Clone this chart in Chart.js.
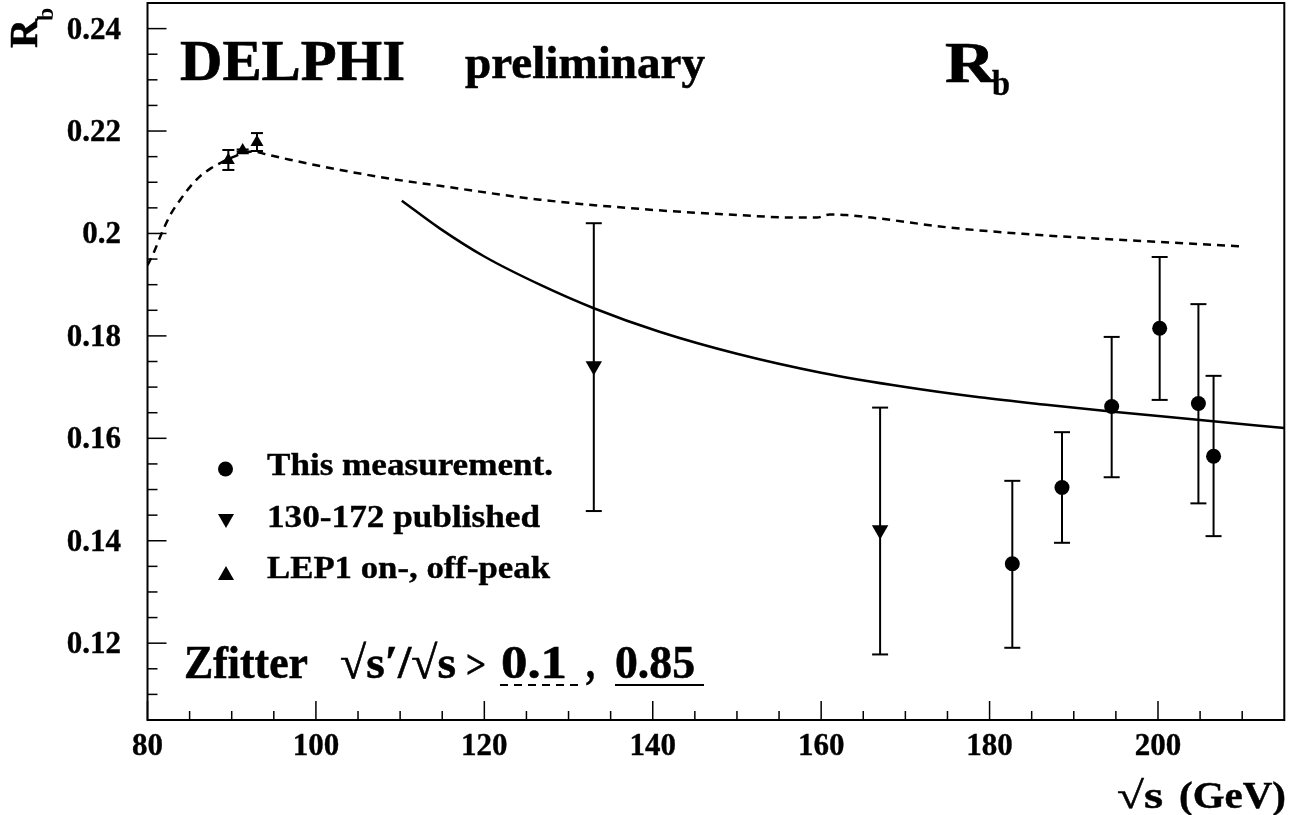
<!DOCTYPE html>
<html>
<head>
<meta charset="utf-8">
<script src="https://cdn.jsdelivr.net/npm/chart.js@4.4.0/dist/chart.umd.min.js"></script>
<style>
html, body { margin: 0; padding: 0; background: #fff; }
canvas { display: block; }
</style>
</head>
<body>
<canvas id="chart" width="1290" height="815"></canvas>
<script>
// R_b versus sqrt(s), DELPHI preliminary
const xTicks = [80, 100, 120, 140, 160, 180, 200]
const yTicks = [0.12, 0.14, 0.16, 0.18, 0.2, 0.22, 0.24]

// this measurement
const measE = [182.7, 188.6, 194.5, 200.2, 204.8, 206.6]
const measRb = [0.1355, 0.1504, 0.1662, 0.1815, 0.1668, 0.1565]
const measLo = [0.1191, 0.1396, 0.1524, 0.1675, 0.1473, 0.1409]
const measHi = [0.1517, 0.1612, 0.1798, 0.1954, 0.1862, 0.1722]

// 130-172 published
const pubE = [133.0, 167.0]
const pubRb = [0.1741, 0.1421]
const pubLo = [0.1458, 0.1178]
const pubHi = [0.2020, 0.1660]

// LEP1 on-, off-peak
const lepE = [89.6, 91.3, 93.0]
const lepRb = [0.2143, 0.2162, 0.2178]
const lepLo = [0.2124, 0.2160, 0.2161]
const lepHi = [0.2163, 0.2164, 0.2196]

// Zfitter, sqrt(s')/sqrt(s) > 0.1 (dashed)
const zf01E = [80, 80.7, 81.7, 82.7, 83.9, 85.1, 86.2, 87.6, 88.8, 90.0, 91.4, 92.6, 94.2, 96.9, 102.9, 108.8, 114.7, 126.6, 140, 150, 157, 159.5, 161, 163, 167, 175, 185, 195, 203, 209.7]
const zf01Rb = [0.1938, 0.1961, 0.2001, 0.2036, 0.2066, 0.2092, 0.2111, 0.2128, 0.2139, 0.2148, 0.2157, 0.2160, 0.2154, 0.2144, 0.2124, 0.2107, 0.2093, 0.2066, 0.2046, 0.2036, 0.2031, 0.2031, 0.2037, 0.2036, 0.2029, 0.2012, 0.1998, 0.1988, 0.1981, 0.1975]

// Zfitter, sqrt(s')/sqrt(s) > 0.85 (solid)
const zf85E = [110.2, 114.7, 120, 126.6, 133.0, 140.8, 150, 160, 170, 178.8, 187, 194.7, 205, 215]
const zf85Rb = [0.2064, 0.2010, 0.1955, 0.1900, 0.1854, 0.1808, 0.1765, 0.1728, 0.1700, 0.1680, 0.1665, 0.1652, 0.1636, 0.1620]

function pts(xs, ys) {
    return xs.map((x, i) => ({x: x, y: ys[i]}))
}

const FONT = '"Liberation Serif", "Times New Roman", serif'

// draw bold text, stretched horizontally to a given width when w is set
function txt(ctx, s, x, y, size, w, align) {
    ctx.save()
    ctx.font = 'bold ' + size + 'px ' + FONT
    let m = ctx.measureText(s).width
    let sx = w ? w / m : 1
    let x0 = x
    if (align === 'right') x0 = x - m * sx
    else if (align === 'center') x0 = x - m * sx / 2
    ctx.translate(x0, y)
    ctx.scale(sx, 1)
    ctx.textAlign = 'left'
    ctx.textBaseline = 'alphabetic'
    ctx.fillStyle = '#000'
    ctx.strokeStyle = '#000'
    ctx.lineWidth = size * 0.012
    ctx.setLineDash([])
    ctx.fillText(s, 0, 0)
    ctx.strokeText(s, 0, 0)
    ctx.restore()
}

function line(ctx, x1, y1, x2, y2) {
    ctx.beginPath()
    ctx.moveTo(x1, y1)
    ctx.lineTo(x2, y2)
    ctx.stroke()
}

function tri(ctx, x, y, w, h, down) {
    ctx.beginPath()
    if (down) {
        ctx.moveTo(x - w / 2, y - h / 2)
        ctx.lineTo(x + w / 2, y - h / 2)
        ctx.lineTo(x, y + h / 2)
    } else {
        ctx.moveTo(x - w / 2, y + h / 2)
        ctx.lineTo(x + w / 2, y + h / 2)
        ctx.lineTo(x, y - h / 2)
    }
    ctx.closePath()
    ctx.fill()
}

const errorBars = {
    id: 'errorBars',
    beforeDatasetsDraw(chart) {
        let ctx = chart.ctx
        let xs = chart.scales.x, ys = chart.scales.y
        ctx.save()
        ctx.strokeStyle = '#000'
        ctx.lineWidth = 2
        chart.data.datasets.forEach(ds => {
            if (!ds.errLo) return
            ds.data.forEach((p, i) => {
                let px = xs.getPixelForValue(p.x)
                let lo = ys.getPixelForValue(ds.errLo[i])
                let hi = ys.getPixelForValue(ds.errHi[i])
                let c = ds.capWidth
                line(ctx, px, lo, px, hi)
                line(ctx, px - c, lo, px + c, lo)
                line(ctx, px - c, hi, px + c, hi)
            })
        })
        ctx.restore()
    }
}

const frame = {
    id: 'frame',
    afterDraw(chart) {
        let ctx = chart.ctx
        let a = chart.chartArea
        let xs = chart.scales.x, ys = chart.scales.y
        ctx.save()
        ctx.strokeStyle = '#000'
        ctx.fillStyle = '#000'
        ctx.lineWidth = 2
        ctx.strokeRect(a.left, a.top, a.right - a.left, a.bottom - a.top)

        // ticks, inside the frame
        ctx.lineWidth = 1.5
        for (let v = 80; v < 215; v += 5) {
            let px = xs.getPixelForValue(v)
            let len = (v % 20 === 0) ? 19 : 9
            line(ctx, px, a.bottom, px, a.bottom - len)
        }
        for (let k = 0; k < 28; k++) {
            let v = 0.105 + k * 0.005
            let py = ys.getPixelForValue(v)
            if (py >= a.bottom - 1 || py <= a.top + 1) continue
            let len = (k % 4 === 3) ? 19 : 10
            line(ctx, a.left, py, a.left + len, py)
        }

        // tick labels
        xTicks.forEach(v => {
            txt(ctx, String(v), xs.getPixelForValue(v), 755, 31, null, 'center')
        })
        yTicks.forEach(v => {
            txt(ctx, String(v), 121, ys.getPixelForValue(v) + 10, 31, null, 'right')
        })

        // axis titles
        ctx.save()
        ctx.translate(37, 48)
        ctx.rotate(-Math.PI / 2)
        ctx.lineWidth = 0.5
        ctx.font = 'bold 40px ' + FONT
        ctx.fillText('R', 0, 0)
        ctx.strokeText('R', 0, 0)
        let rw = ctx.measureText('R').width
        ctx.font = 'bold 24px ' + FONT
        ctx.fillText('b', rw - 2, 16)
        ctx.restore()

        txt(ctx, '\u221As', 1117, 808, 38, 46)
        txt(ctx, '(GeV)', 1179, 808, 38, 107)

        // header
        txt(ctx, 'DELPHI', 180, 80, 58, 225)
        txt(ctx, 'preliminary', 465, 78, 46, 240)
        txt(ctx, 'R', 945, 82, 56, 50)
        txt(ctx, 'b', 992, 95, 36, 18)

        // legend
        ctx.beginPath()
        ctx.arc(225.5, 469, 7.5, 0, Math.PI * 2)
        ctx.fill()
        tri(ctx, 226, 521, 16, 14, true)
        tri(ctx, 226, 573, 16, 14, false)
        txt(ctx, 'This measurement.', 267, 475, 31, 286)
        txt(ctx, '130-172 published', 267, 527, 31, 273)
        txt(ctx, 'LEP1 on-, off-peak', 267, 578, 31, 283)

        // Zfitter line
        txt(ctx, 'Zfitter', 184, 678, 46, 124)
        txt(ctx, '\u221As\u2032/\u221As', 340, 678, 46, 116)
        txt(ctx, '>', 466, 678, 40, 20)
        txt(ctx, '0.1', 501, 678, 46, 66)
        txt(ctx, ',', 586, 678, 46, 9)
        txt(ctx, '0.85', 615, 678, 46, 80)
        ctx.lineWidth = 2
        ctx.setLineDash([8, 6])
        line(ctx, 500, 685, 580, 685)
        ctx.setLineDash([])
        line(ctx, 615, 685, 704, 685)
        ctx.restore()
    }
}

let object = document.getElementById('chart')

let config = {
    type: 'scatter',
    data: {
        datasets: [
            {
                label: 'This measurement.',
                data: pts(measE, measRb),
                errLo: measLo, errHi: measHi, capWidth: 8,
                pointStyle: 'circle', pointRadius: 7.5,
                backgroundColor: '#000', borderWidth: 0
            },
            {
                label: '130-172 published',
                data: pts(pubE, pubRb),
                errLo: pubLo, errHi: pubHi, capWidth: 8,
                pointStyle: 'triangle', pointRotation: 180, pointRadius: 9.5,
                backgroundColor: '#000', borderWidth: 0
            },
            {
                label: 'LEP1 on-, off-peak',
                data: pts(lepE, lepRb),
                errLo: lepLo, errHi: lepHi, capWidth: 6,
                pointStyle: 'triangle', pointRadius: 7.5,
                backgroundColor: '#000', borderWidth: 0
            },
            {
                label: 'Zfitter 0.1',
                data: pts(zf01E, zf01Rb),
                showLine: true, pointRadius: 0,
                borderColor: '#000', borderWidth: 2.5, borderDash: [8, 6],
                cubicInterpolationMode: 'monotone'
            },
            {
                label: 'Zfitter 0.85',
                data: pts(zf85E, zf85Rb),
                showLine: true, pointRadius: 0,
                borderColor: '#000', borderWidth: 2.5,
                cubicInterpolationMode: 'monotone'
            }
        ]
    },
    options: {
        responsive: false,
        animation: false,
        layout: {
            autoPadding: false,
            padding: {left: 147.5, right: 5.7, top: 3, bottom: 95}
        },
        plugins: {
            legend: {display: false},
            tooltip: {enabled: false}
        },
        scales: {
            x: {type: 'linear', min: 80, max: 215, display: false},
            y: {type: 'linear', min: 0.105, max: 0.245, display: false}
        }
    },
    plugins: [errorBars, frame]
}
let chart = new Chart(object, config)
</script>
</body>
</html>
